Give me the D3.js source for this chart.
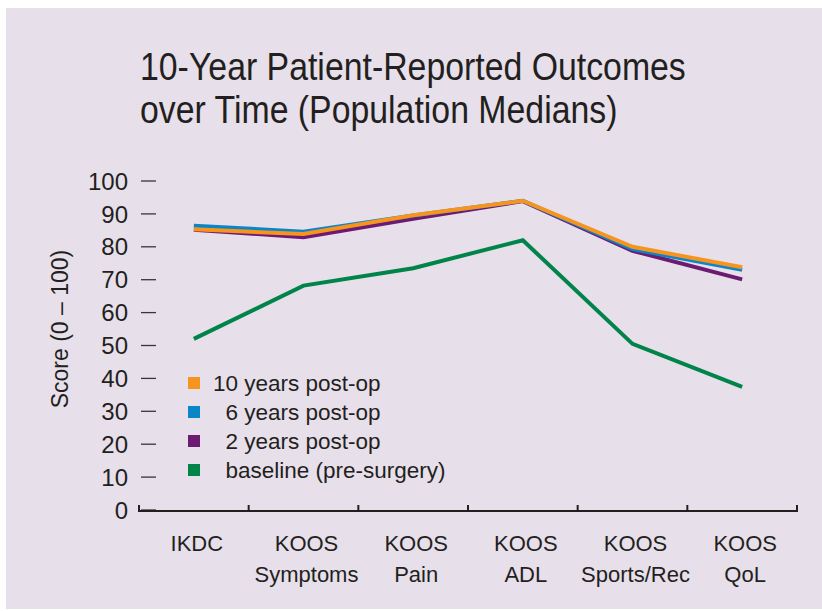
<!DOCTYPE html>
<html lang="en">
  <head>
    <meta charset="utf-8">
    <title>10-Year Patient-Reported Outcomes</title>
    <style type="text/css">
      body { margin: 0; background: #ffffff; }
      svg text { font-family: "Liberation Sans", Arial, sans-serif; fill: #231f20; }
    </style>
    <script src="https://d3js.org/d3.v7.min.js"></script>
  </head>
  <body>
    <div id="chart"></div>
    <script>

    // categories (two-line labels) and series medians
    var categories = ["IKDC", "KOOS Symptoms", "KOOS Pain", "KOOS ADL", "KOOS Sports/Rec", "KOOS QoL"];
    var catLines = [["IKDC"], ["KOOS", "Symptoms"], ["KOOS", "Pain"], ["KOOS", "ADL"], ["KOOS", "Sports/Rec"], ["KOOS", "QoL"]];

    var baseline = [52, 68.2, 73.5, 82, 50.5, 37.4];
    var post2 = [85.2, 82.9, 88.5, 93.9, 78.8, 70.1];
    var post6 = [86.4, 84.6, 89.5, 94, 79.3, 73];
    var post10 = [85.3, 83.9, 89.6, 94, 80, 73.8];

    var seriesNames = ["10 years post-op", "\u20076 years post-op", "\u20072 years post-op", "\u2007baseline (pre-surgery)"];
    var yTicks = [0, 10, 20, 30, 40, 50, 60, 70, 80, 90, 100];

    var W = 822, H = 611;

    var svg = d3.select("#chart")
      .append("svg")
        .attr("width", W)
        .attr("height", H);

    // lilac panel
    svg.append("rect")
      .attr("x", 6).attr("y", 8)
      .attr("width", W - 6).attr("height", 601)
      .attr("fill", "#e7dfea");

    // title (squeezed a bit, the original face is condensed)
    svg.append("text")
      .attr("transform", "translate(140,80) scale(0.89,1)")
      .attr("font-size", "38px")
      .text("10-Year Patient-Reported Outcomes");
    svg.append("text")
      .attr("transform", "translate(140,123) scale(0.89,1)")
      .attr("font-size", "38px")
      .text("over Time (Population Medians)");

    var x = d3.scaleBand()
      .domain(categories)
      .range([139, 797]);

    var y = d3.scaleLinear()
      .domain([0, 100])
      .range([510, 181]);

    // y ticks: short dashes, no spine
    var yg = svg.append("g");
    yg.selectAll("line")
      .data(yTicks)
      .enter()
      .append("line")
        .attr("x1", 141).attr("x2", 156)
        .attr("y1", function(d){ return y(d) })
        .attr("y2", function(d){ return y(d) })
        .attr("stroke", "#3a3536")
        .attr("stroke-width", 1.3);
    yg.selectAll("text")
      .data(yTicks)
      .enter()
      .append("text")
        .attr("x", 128)
        .attr("y", function(d){ return y(d) })
        .attr("dy", "0.36em")
        .attr("text-anchor", "end")
        .attr("font-size", "24px")
        .text(function(d){ return d });

    // y title
    svg.append("text")
      .attr("transform", "translate(68,329) rotate(-90)")
      .attr("text-anchor", "middle")
      .attr("font-size", "23px")
      .text("Score (0 \u2013 100)");

    // x axis baseline with upward ticks at band edges
    var xg = svg.append("g");
    xg.append("line")
      .attr("x1", 139).attr("x2", 797)
      .attr("y1", 511).attr("y2", 511)
      .attr("stroke", "#231f20")
      .attr("stroke-width", 2.2);
    var edges = categories.map(function(c){ return x(c) }).concat([x.range()[1]]);
    xg.selectAll("line.tick")
      .data(edges)
      .enter()
      .append("line")
        .attr("class", "tick")
        .attr("x1", function(d){ return d }).attr("x2", function(d){ return d })
        .attr("y1", 512).attr("y2", 505)
        .attr("stroke", "#231f20")
        .attr("stroke-width", 2);

    // category labels
    var lab = xg.selectAll("text.cat")
      .data(catLines)
      .enter()
      .append("text")
        .attr("class", "cat")
        .attr("text-anchor", "middle")
        .attr("font-size", "22px");
    lab.each(function(lines, i){
      var t = d3.select(this);
      var cx = x(categories[i]) + x.bandwidth() / 2 + 3;
      lines.forEach(function(s, j){
        t.append("tspan")
          .attr("x", cx)
          .attr("y", 551 + j * 31)
          .text(s);
      });
    });

    // lines
    var series = [
      {name: seriesNames[3], color: "#00844a", values: baseline},
      {name: seriesNames[2], color: "#6d1b72", values: post2},
      {name: seriesNames[1], color: "#0a85c8", values: post6},
      {name: seriesNames[0], color: "#f7941e", values: post10}
    ];

    var line = d3.line()
      .x(function(d, i){ return x(categories[i]) + x.bandwidth() / 2 })
      .y(function(d){ return y(d) });

    svg.selectAll("path.series")
      .data(series)
      .enter()
      .append("path")
        .attr("class", "series")
        .attr("d", function(d){ return line(d.values) })
        .attr("fill", "none")
        .attr("stroke", function(d){ return d.color })
        .attr("stroke-width", 4)
        .attr("stroke-linejoin", "miter");

    // legend
    var legend = series.slice().reverse();
    var lg = svg.selectAll("g.legend")
      .data(legend)
      .enter()
      .append("g")
        .attr("class", "legend")
        .attr("transform", function(d, i){ return "translate(188," + (383 + i * 29) + ")" });
    lg.append("rect")
      .attr("x", 0).attr("y", -6)
      .attr("width", 12).attr("height", 12)
      .attr("fill", function(d){ return d.color });
    lg.append("text")
      .attr("x", 25)
      .attr("dy", "0.36em")
      .attr("font-size", "22.5px")
      .text(function(d){ return d.name });

    </script>
  </body>
</html>
